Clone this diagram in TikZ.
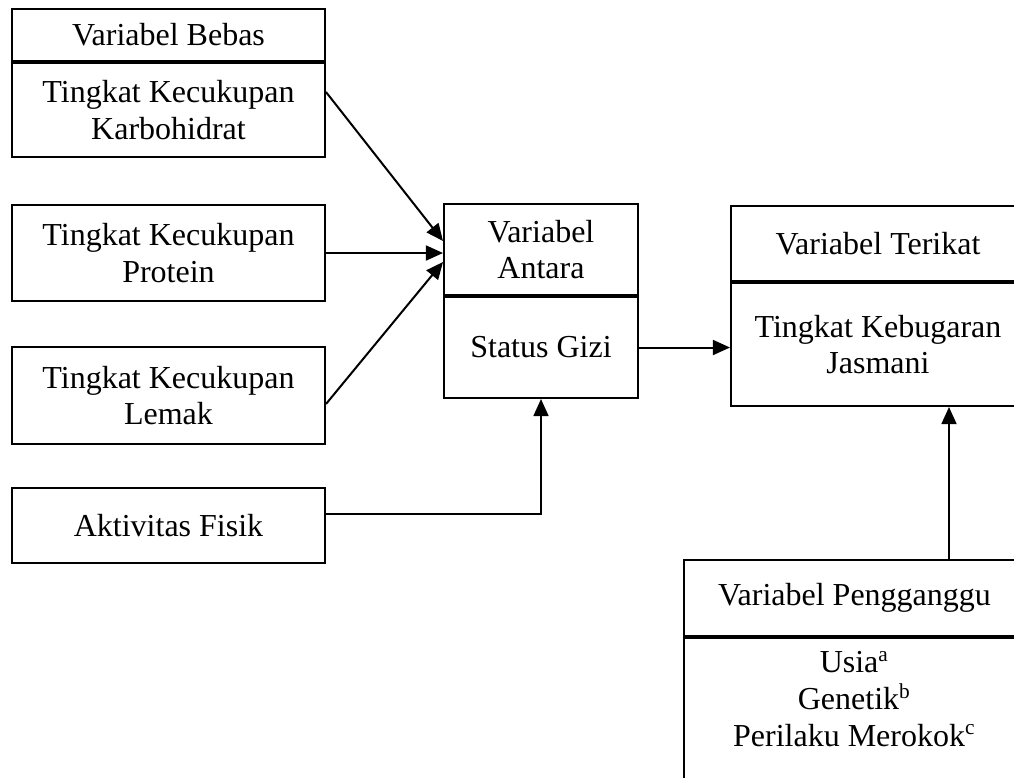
\documentclass[tikz,border=0pt]{standalone}
\usepackage{fontspec}
\setmainfont{Liberation Serif}
\usetikzlibrary{positioning, calc, arrows.meta}

\begin{document}
\begin{tikzpicture}[x=0.375pt, y=-0.375pt, >={Triangle[length=6.4pt, width=5.6pt]}, line width=0.75pt, font=\fontsize{12}{13.8}\selectfont,
  box/.style={draw, rectangle, align=center, inner sep=0pt, anchor=north west}]
\useasboundingbox (0,0) rectangle (1014,777);
\clip (0,0) rectangle (1014,777);

\node[box, minimum width=117.375pt, minimum height=19.5pt] (bebasHead) at (11,8) {Variabel Bebas};
\node[box, minimum width=117.375pt, minimum height=35.25pt, below=0pt of bebasHead] (karbo) {Tingkat Kecukupan\\Karbohidrat};
\node[box, minimum width=117.375pt, minimum height=36pt] (protein) at (11,204) {Tingkat Kecukupan\\Protein};
\node[box, minimum width=117.375pt, minimum height=36.375pt] (lemak) at (11,346) {Tingkat Kecukupan\\Lemak};
\node[box, minimum width=117.375pt, minimum height=28.125pt] (aktivitas) at (11,487) {Aktivitas Fisik};

\node[box, minimum width=72.75pt, minimum height=34.125pt] (antaraHead) at (443,203) {Variabel\\Antara};
\node[box, minimum width=72.75pt, minimum height=37.875pt, below=0pt of antaraHead] (gizi) {Status Gizi};

\node[box, minimum width=110.25pt, minimum height=28.125pt] (terikatHead) at (730,205) {Variabel Terikat};
\node[box, minimum width=110.25pt, minimum height=46.125pt, below=0pt of terikatHead] (kebugaran) {Tingkat Kebugaran\\Jasmani};

\node[box, minimum width=127.875pt, minimum height=28.5pt] (pengHead) at (683,559) {Variabel Pengganggu};
\node[box, minimum width=127.875pt, minimum height=60pt, below=0pt of pengHead] (faktor) {};
\node[align=center] (faktorText) at ($(pengHead.south)+(0,62)$) {Usia\textsuperscript{a}\\Genetik\textsuperscript{b}\\Perilaku Merokok\textsuperscript{c}};

\draw[->] ($(karbo.east)+(0,-18)$) -- ($(antaraHead.west)+(0,-8.5)$);
\draw[->] (protein.east) -- (protein.east -| antaraHead.west);
\draw[->] ($(lemak.east)+(0,8.5)$) -- ($(antaraHead.west)+(0,12.5)$);
\draw[->] ($(aktivitas.east)+(0,-11.5)$) -| (gizi.south);
\draw[->] (gizi.east) -- (gizi.east -| kebugaran.west);
\coordinate (p1) at ($(pengHead.north)+(94.5,0)$);
\draw[->] (p1) -- (p1 |- kebugaran.south);
\end{tikzpicture}
\end{document}
